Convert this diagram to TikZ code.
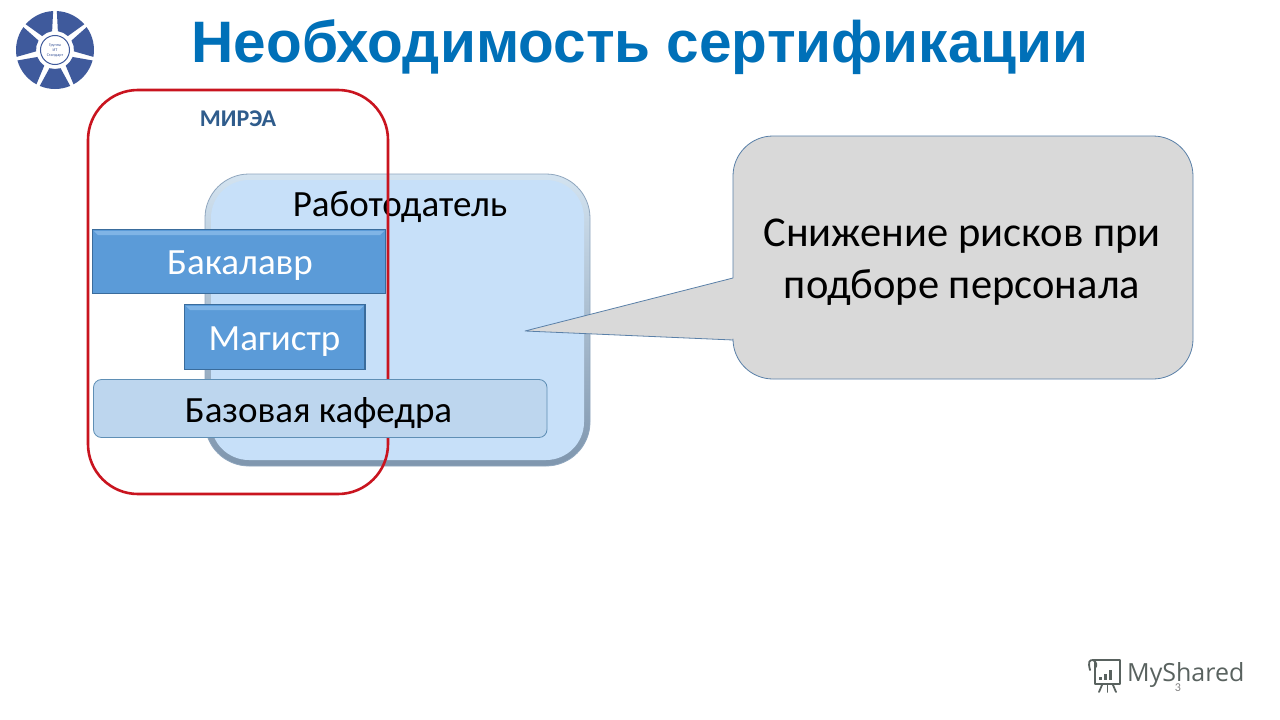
\documentclass[tikz,border=0pt]{standalone}
\usepackage{fontspec}
\setmainfont{Carlito}
\newfontfamily\titlefont{Liberation Sans}
\newfontfamily\logofont{Open Sans}
\definecolor{titleblue}{HTML}{0070B8}
\definecolor{mireablue}{HTML}{2F5C8C}
\definecolor{wheelblue}{HTML}{3F5A9C}
\definecolor{empfill}{HTML}{C7E0F9}
\definecolor{empedge}{HTML}{8FA6BE}
\definecolor{emptop}{HTML}{D3E3F0}
\definecolor{empbottom}{HTML}{7F96AE}
\definecolor{boxfill}{HTML}{5B9BD8}
\definecolor{boxlight}{HTML}{7FB4E6}
\definecolor{boxdark}{HTML}{3A6C9C}
\definecolor{basefill}{HTML}{BDD6EE}
\definecolor{baseedge}{HTML}{5F8FB5}
\definecolor{callfill}{HTML}{D9D9D9}
\definecolor{calledge}{HTML}{5A80A8}
\definecolor{redline}{HTML}{C9141F}
\definecolor{logogrey}{HTML}{59625F}
\tikzset{
  lbl/.style={inner sep=0pt,font=\fontsize{37}{37}\selectfont,text=black},
  barbox/.style={draw=boxdark,line width=1.5pt,fill=boxfill},
  barlbl/.style={inner sep=0pt,font=\fontsize{37}{37}\selectfont,text=white},
  sector/.style={fill=wheelblue,draw=none},
  logoline/.style={draw=logogrey,line width=1.8pt,line cap=round,line join=round}
}
\begin{document}
\begin{tikzpicture}[x=1pt,y=-1pt]
\useasboundingbox (0,0) rectangle (1280,720);
\fill[white] (0,0) rectangle (1280,720);
% title
\node[inner sep=0pt,font=\titlefont\bfseries\fontsize{58.5}{58.5}\selectfont,text=titleblue] (title) at (640,47) {Необходимость сертификации};
% logo wheel
\foreach \a in {-90,-38.57,12.86,64.29,115.71,167.14,218.57}{
  \fill[sector] ({55+39*cos(\a-23)},{50-39*sin(\a-23)}) arc[start angle=-(\a-23),end angle=-(\a+23),radius=39]
     -- ({55+19*cos(\a+17)},{50-19*sin(\a+17)}) arc[start angle=-(\a+17),end angle=-(\a-17),radius=19] -- cycle;
}
\node[circle,draw=wheelblue,line width=1pt,fill=white,minimum size=29pt,inner sep=0pt,align=center,font=\fontsize{4.2}{5}\selectfont,text=wheelblue] (hub) at (55,50) {Группа\\ИТ\\Стандарт};
% employer
\draw[draw=empedge,line width=0.8pt,top color=emptop,bottom color=empbottom,rounded corners=44pt] (205,174) rectangle (590,466);
\fill[empfill,rounded corners=38pt] (211,180) rectangle (584,460);
\node[lbl] (emp) at (400,207) {Работодатель};
% red outline
\draw[draw=redline,line width=2.6pt,rounded corners=50pt] (88,90) rectangle (388,494);
\node[inner sep=0pt,font=\bfseries\fontsize{24}{24}\selectfont,text=mireablue] (mirea) at (238,119) {МИРЭА};
% bars
\draw[barbox] (92.5,229.5) rectangle (385.5,293.5);
\fill[boxlight] (94,231) -- (384,231) -- (380,235) -- (98,235) -- cycle;
\node[barlbl] (bach) at (240,266) {Бакалавр};
\draw[barbox] (184.5,304.5) rectangle (365,369.5);
\fill[boxlight] (186,306) -- (363.5,306) -- (359.5,310) -- (190,310) -- cycle;
\node[barlbl] (mast) at (274.5,342) {Магистр};
\draw[draw=baseedge,line width=0.8pt,fill=basefill,rounded corners=8pt] (93.5,379.5) rectangle (547,437.5);
\node[lbl] (base) at (318.5,413) {Базовая кафедра};
% callout
\draw[draw=calledge,line width=0.8pt,fill=callfill,line join=round]
  (733,278) -- (733,176) arc[start angle=180,end angle=270,radius=40] -- (1153,136)
  arc[start angle=270,end angle=360,radius=40] -- (1193,339)
  arc[start angle=0,end angle=90,radius=40] -- (773,379)
  arc[start angle=90,end angle=180,radius=40] -- (733,340) -- (525,331) -- cycle;
\node[inner sep=0pt,align=center,font=\fontsize{42.5}{52}\selectfont,text=black] (risk) at (962,262) {Снижение рисков при\\подборе персонала};
% MyShared logo
\draw[logoline] (1093,660) -- (1120,660) -- (1120,684) -- (1095,684) -- (1095,662);
\draw[logoline] (1090,670) .. controls (1088,662) and (1089,660) .. (1093,660);
\draw[logoline] (1093,660) .. controls (1097,662) and (1097,666) .. (1095,668);
\draw[logoline] (1102,685) -- (1099,692);
\draw[logoline] (1107.5,685) -- (1107.5,692);
\draw[logoline] (1113,685) -- (1116,692);
\fill[logogrey] (1099,677) rectangle (1102,680);
\fill[logogrey] (1104,674) rectangle (1107,680);
\fill[logogrey] (1109,670) rectangle (1112,680);
\node[inner sep=0pt,anchor=west,font=\logofont\fontsize{25}{25}\selectfont,text=logogrey] (shared) at (1127,675) {MyShared};
\node[inner sep=0pt,font=\fontsize{12}{12}\selectfont,text=gray] (page) at (1178,688) {3};
\end{tikzpicture}
\end{document}
